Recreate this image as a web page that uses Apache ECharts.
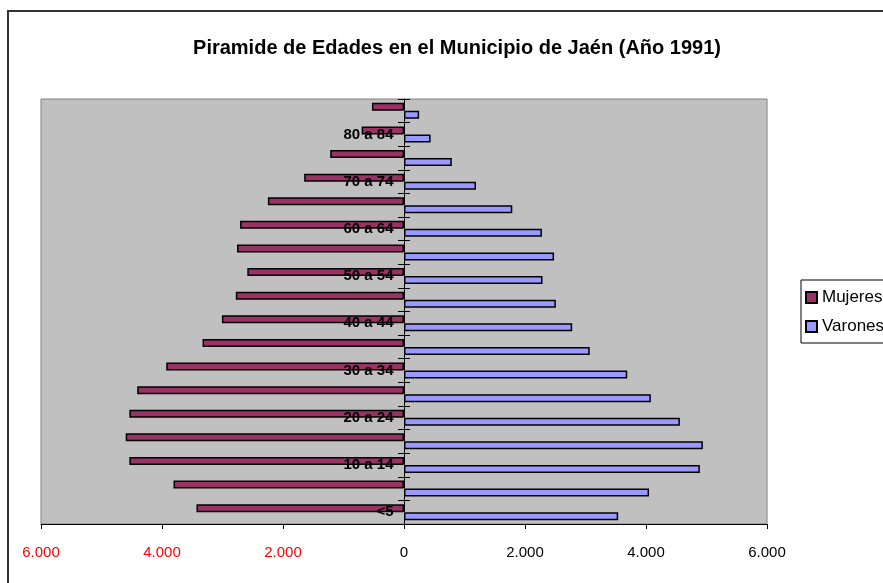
<!DOCTYPE html>
<html>
<head>
<meta charset="utf-8">
<script src="https://cdn.jsdelivr.net/npm/echarts@6/dist/echarts.min.js"></script>
<style>
html,body{margin:0;padding:0;background:#fff;}
#c{width:883px;height:583px;}
</style>
</head>
<body>
<div id="c"></div>
<script>
const categories = ['<5','5 a 9','10 a 14','15 a 19','20 a 24','25 a 29','30 a 34','35 a 39','40 a 44','45 a 49','50 a 54','55 a 59','60 a 64','65 a 69','70 a 74','75 a 79','80 a 84','85 y más'];
const mujeres = [3430, 3810, 4540, 4600, 4540, 4410, 3930, 3330, 3010, 2780, 2590, 2760, 2710, 2250, 1650, 1220, 700, 530];
const varones = [3540, 4050, 4890, 4940, 4560, 4080, 3690, 3070, 2780, 2510, 2290, 2480, 2280, 1790, 1190, 790, 440, 250];
const xTicks = { min: -6000, max: 6000, step: 2000 };

const FONT = '"Liberation Sans", Arial, sans-serif';
function fmt(v){
  const a = Math.abs(v);
  return String(a).replace(/\B(?=(\d{3})+(?!\d))/g, '.');
}
const chart = echarts.init(document.getElementById('c'), null, {renderer:'canvas'});
chart.setOption({
  animation: false,
  backgroundColor: '#fff',
  title: {
    text: 'Piramide de Edades en el Municipio de Jaén (Año 1991)',
    left: 452, top: 33, textAlign: 'center',
    textStyle: { fontFamily: FONT, fontWeight: 'bold', fontSize: 20, color: '#000' }
  },
  graphic: [{
    type: 'rect', z: -1, silent: true,
    shape: { x: 8, y: 11, width: 900, height: 600 },
    style: { fill: 'none', stroke: '#333', lineWidth: 2 }
  }],
  legend: {
    orient: 'vertical', left: 801, top: 280,
    data: ['Mujeres', 'Varones'],
    backgroundColor: '#fff', borderColor: '#000', borderWidth: 1,
    padding: [9, 10, 8, 4], itemGap: 12,
    itemWidth: 11, itemHeight: 11, icon: 'rect',
    textStyle: { fontFamily: FONT, fontSize: 17, color: '#000' }
  },
  grid: {
    left: 41, right: 116, top: 99, bottom: 59,
    containLabel: false, outerBoundsMode: 'none',
    show: true, backgroundColor: '#C0C0C0', borderColor: '#808080', borderWidth: 1
  },
  xAxis: {
    type: 'value', min: xTicks.min, max: xTicks.max, interval: xTicks.step,
    splitLine: { show: false },
    axisLine: { show: true, lineStyle: { color: '#000', width: 1 } },
    axisTick: { show: true, length: 5, lineStyle: { color: '#000' } },
    axisLabel: {
      margin: 21, fontFamily: FONT, fontSize: 15,
      formatter: fmt,
      color: function(v){ return v < 0 ? '#FF0000' : '#000'; }
    }
  },
  yAxis: [{
    type: 'category', data: categories,
    axisLine: { show: true, onZero: true, onZeroAxisIndex: 0, lineStyle: { color: '#000' } },
    axisTick: { show: true, length: 6, lineStyle: { color: '#000' } },
    axisLabel: { show: false }
  }, {
    type: 'category', data: categories, position: 'left',
    axisLine: { show: false, onZero: true, onZeroAxisIndex: 0 },
    axisTick: { show: true, inside: true, length: 6, lineStyle: { color: '#000' } },
    axisLabel: { show: false }
  }],
  series: [{
    name: 'Mujeres', type: 'bar', data: mujeres.map(v => -v),
    barWidth: 8, barGap: '0%',
    itemStyle: { color: '#993366', borderColor: '#000', borderWidth: 1.5 }
  }, {
    name: 'Varones', type: 'bar', data: varones,
    barWidth: 8, barGap: '0%',
    itemStyle: { color: '#9999FF', borderColor: '#000', borderWidth: 1.5 }
  }, {
    name: 'labels', type: 'scatter', silent: true, z: 10,
    data: categories.map((c, i) => [0, i]),
    symbol: 'rect', symbolSize: 1, itemStyle: { color: '#C0C0C0', opacity: 1 },
    label: {
      show: true, position: 'left', distance: 10, opacity: 1,
      fontFamily: FONT, fontWeight: 'bold', fontSize: 15, color: '#000',
      textBorderWidth: 0,
      formatter: function(p){ return p.dataIndex % 2 === 0 ? categories[p.dataIndex] : ''; }
    }
  }]
});
</script>
</body>
</html>
